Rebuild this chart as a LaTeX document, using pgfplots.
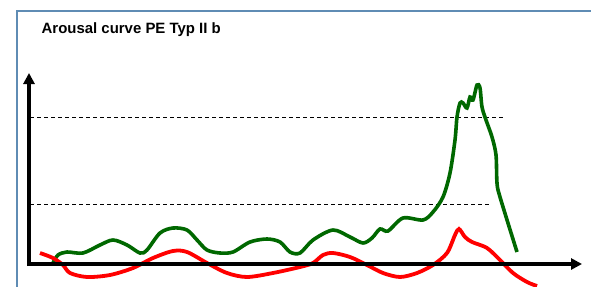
\documentclass[border=0pt]{standalone}
\usepackage{pgfplots}
\pgfplotsset{compat=1.18}
\usepackage{fontspec}
\setmainfont{Liberation Sans}
\usetikzlibrary{arrows.meta}
\definecolor{framecol}{RGB}{95,140,180}
\definecolor{dgreen}{RGB}{0,104,0}
\begin{document}
\begin{tikzpicture}
\begin{axis}[
  hide axis, scale only axis,
  width=591bp, height=287bp,
  xmin=0, xmax=591, ymin=0, ymax=287,
  y dir=reverse,
]
\addplot[draw=none] coordinates {(0,0) (591,287)};
% frame
\addplot[framecol, line width=2bp] coordinates {(17,287) (17,11)};
\addplot[framecol, line width=2bp] coordinates {(16,11) (590.5,11)};
% dashed levels
\addplot[black, line width=0.9bp, dash pattern=on 4bp off 3bp] coordinates {(30,117) (503,117)};
\addplot[black, line width=0.9bp, dash pattern=on 4bp off 3bp] coordinates {(30,204) (490,204)};
% green curve
\addplot[dgreen, line width=3.6bp, smooth, tension=0.5] coordinates {
(53,263) (58,255) (67,252) (83,253) (100,245) (113,240) (127,245) (140,253)
(147,250) (160,233) (173,228) (187,230) (197,240) (207,250) (220,253) (233,252)
(250,242) (267,239) (280,242) (290,252) (300,253) (313,240) (333,230) (350,237)
(363,243) (372,238) (380,229) (388,231) (403,218) (423,220) (433,212) (443,197)
(450,173) (455,140) (457,117) (460,103) (463,103) (467,108) (470,97) (473,100)
(477,85) (480,88) (482,107) (486,120) (492,137) (496,155) (497,183) (500,197) (517,252)
};
% red curve
\addplot[red, line width=3.8bp, smooth, tension=0.5] coordinates {
(40,253) (53,258) (63,265) (70,273) (87,277) (110,275) (133,268) (153,258)
(173,251) (187,252) (207,263) (227,273) (247,277) (273,273) (300,267) (313,263)
(323,255) (333,253) (350,257) (367,265) (383,273) (400,277) (417,273) (433,265)
(447,253) (455,235) (459,229) (465,237) (472,242) (487,248) (500,260) (513,273)
(527,282) (537,286)
};
% axes with arrows
\addplot[black, line width=3.6bp, -{Triangle[length=11bp,width=11bp]}] coordinates {(29,266) (29,73)};
\addplot[black, line width=3.6bp, -{Triangle[length=11bp,width=11bp]}] coordinates {(28,264) (582,264)};
\node[anchor=base west, inner sep=0pt, font=\bfseries\fontsize{15}{18}\selectfont] at (axis cs:41.5,33) {Arousal curve PE Typ II b};
\end{axis}
\end{tikzpicture}
\end{document}
